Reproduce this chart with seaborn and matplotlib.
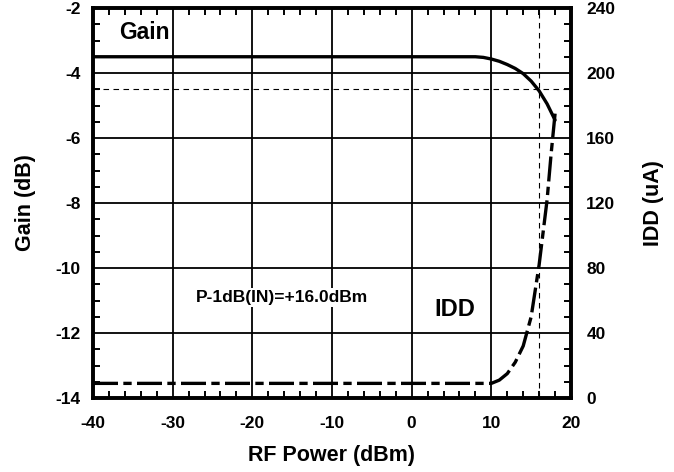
import matplotlib
matplotlib.use("Agg")
import matplotlib.pyplot as plt
from matplotlib.ticker import MultipleLocator
import seaborn as sns
import pandas as pd

sns.set_theme(style="white")
plt.rcParams['font.family'] = ['Liberation Sans', 'DejaVu Sans']
plt.rcParams['font.weight'] = 'bold'
plt.rcParams['axes.unicode_minus'] = False
plt.rcParams['text.color'] = 'black'
plt.rcParams['axes.labelcolor'] = 'black'
plt.rcParams['xtick.color'] = 'black'
plt.rcParams['ytick.color'] = 'black'

# data
gain_x = [-40, -30, -20, -10, 0, 8, 9, 10, 11, 12, 13, 14, 15, 16, 17, 18]
gain_db = [-3.5, -3.5, -3.5, -3.5, -3.5, -3.5, -3.52, -3.57, -3.64, -3.74, -3.86, -4.02, -4.25, -4.55, -4.95, -5.45]
idd_x = [-40, -30, -20, -10, 0, 10, 11, 12, 13, 14, 15, 16, 17, 17.5, 18]
idd_ua = [9, 9, 9, 9, 9, 9, 11, 15, 22, 32, 50, 82, 122, 150, 175]
p1db_in = 16.0
p1db_gain = -4.5

x_ticks = [-40, -30, -20, -10, 0, 10, 20]
gain_ticks = [-2, -4, -6, -8, -10, -12, -14]
idd_ticks = [0, 40, 80, 120, 160, 200, 240]

gain_df = pd.DataFrame({"x": gain_x, "gain": gain_db})
idd_df = pd.DataFrame({"x": idd_x, "idd": idd_ua})

fig = plt.figure(figsize=(6.74, 4.72), dpi=100)
ax = fig.add_axes([93/674, 1-398/472, 478/674, 390/472])
ax2 = ax.twinx()

ax.set_xlim(-40, 20)
ax.set_ylim(-14, -2)
ax2.set_ylim(0, 240)

ax.set_xticks(x_ticks)
ax.set_yticks(gain_ticks)
ax2.set_yticks(idd_ticks)
ax.xaxis.set_minor_locator(MultipleLocator(2))
ax.yaxis.set_minor_locator(MultipleLocator(0.5))
ax2.yaxis.set_minor_locator(MultipleLocator(10))

ax.grid(True, which='major', color='black', linewidth=1.3)
ax.set_axisbelow(True)

# reference lines
ax.axhline(p1db_gain, color='black', linewidth=0.8, linestyle=(0, (5, 4)), zorder=1)
ax.axvline(p1db_in, color='black', linewidth=0.8, linestyle=(0, (5, 4)), zorder=1)

sns.lineplot(data=gain_df, x="x", y="gain", ax=ax, color='black', linewidth=2.4, zorder=3)
sns.lineplot(data=idd_df, x="x", y="idd", ax=ax2, color='black', linewidth=2.4, zorder=3)
ax2.lines[-1].set_dashes([7.5, 1.6, 2.5, 1.6])
ax2.lines[-1].set_dash_capstyle('butt')

for a in (ax, ax2):
    for s in a.spines.values():
        s.set_linewidth(2.6)
        s.set_color('black')

ax.tick_params(axis='x', which='both', direction='in', top=True, bottom=True,
               labelsize=12.5, pad=13, colors='black')
ax.tick_params(axis='x', which='major', length=0)
ax.tick_params(axis='x', which='minor', length=5, width=1.4)
ax.tick_params(axis='y', which='both', direction='in', left=True, right=False,
               labelsize=12.5, pad=9, colors='black')
ax.tick_params(axis='y', which='major', length=0)
ax.tick_params(axis='y', which='minor', length=5, width=1.4)
ax2.tick_params(axis='y', which='both', direction='in', right=True, labelsize=12.5,
                pad=11, colors='black')
ax2.tick_params(axis='y', which='major', length=0)
ax2.tick_params(axis='y', which='minor', length=5, width=1.4)

for lab in ax.get_xticklabels() + ax.get_yticklabels() + ax2.get_yticklabels():
    lab.set_fontweight('bold')

ax.set_xlabel("RF Power (dBm)", fontsize=15.5, fontweight='bold', labelpad=10, color='black')
ax.set_ylabel("Gain (dB)", fontsize=15.5, fontweight='bold', labelpad=14, color='black')
ax2.set_ylabel("IDD (uA)", fontsize=15.5, fontweight='bold', labelpad=20, rotation=90,
               color='black')

box = dict(facecolor='white', edgecolor='none', pad=1.5)
ax.text(-33.5, -2.74, "Gain", fontsize=16.5, fontweight='bold', ha='center', va='center',
        bbox=box, zorder=4)
ax.text(-16.3, -10.92, "P-1dB(IN)=+16.0dBm", fontsize=12.5, fontweight='bold',
        ha='center', va='center', bbox=box, zorder=4)
ax.text(5.4, -11.29, "IDD", fontsize=17, fontweight='bold', ha='center', va='center',
        bbox=box, zorder=4)

fig.savefig("out.png", dpi=100)
